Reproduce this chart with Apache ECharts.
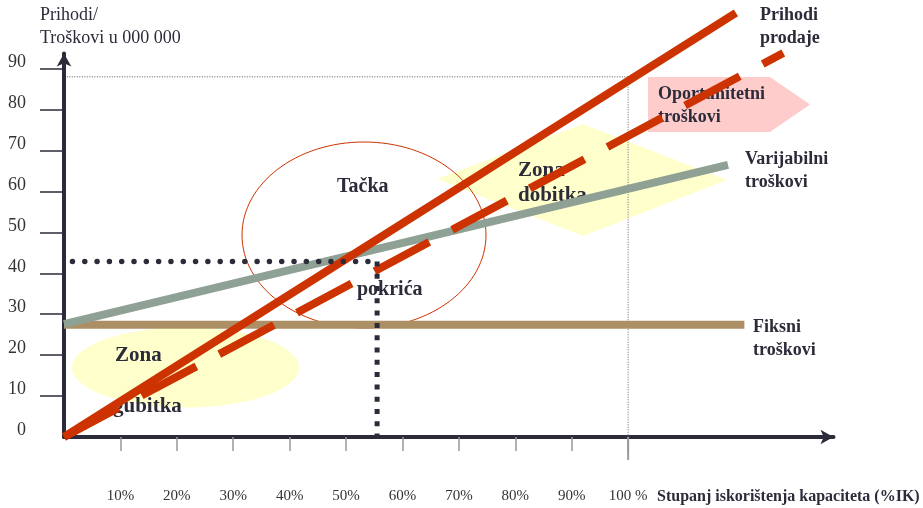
<!DOCTYPE html>
<html>
<head>
<meta charset="utf-8">
<script src="https://cdn.jsdelivr.net/npm/echarts@6/dist/echarts.min.js"></script>
<style>
  html, body { margin: 0; padding: 0; background: #ffffff; }
  #chart { width: 923px; height: 508px; }
</style>
</head>
<body>
<div id="chart"></div>
<script>
// ---- data (x: % of capacity, y: revenue / costs in 000 000) ----
const xTickValues = [10, 20, 30, 40, 50, 60, 70, 80, 90, 100];
const xTickLabels = ['10%', '20%', '30%', '40%', '50%', '60%', '70%', '80%', '90%', '100 %'];
const yLabelValues = [0, 10, 20, 30, 40, 50, 60, 70, 80, 90];
const yTickValues = [10, 20, 30, 40, 50, 60, 70, 80, 90];

const salesRevenue = [[0, 0], [119.1, 103.6]];          // Prihodi prodaje (solid)
const opportunityRevenue = [[0, 0], [127.5, 93.8]];     // dashed revenue line
const variableCosts = [[0, 27.6], [117.7, 66.5]];       // Varijabilni troškovi
const fixedCosts = [[0, 27.4], [120.6, 27.4]];          // Fiksni troškovi
const breakEvenH = [[1.5, 42.9], [55.5, 42.9]];         // dotted guide to y axis
const breakEvenV = [[55.5, 42.9], [55.5, -1.5]];        // dotted guide to x axis
const capacityH = [[0.5, 88], [100, 88]];               // thin dotted at top
const capacityV = [[100, 88], [100, 0]];                // thin dotted at 100 %
const capacityTick = [[100, 0], [100, -5.6]];           // long tick under 100 %

const SERIF = '"Liberation Serif", "Times New Roman", serif';
const INK = '#2b2b3a';
const RED = '#cc3300';

const chart = echarts.init(document.getElementById('chart'), null, { renderer: 'canvas' });

function line(data, style, z) {
  return {
    type: 'line', data: data, symbol: 'none', silent: true, clip: false,
    animation: false, z: z || 2, lineStyle: style
  };
}

function txt(text, x, y, size, bold) {
  return {
    type: 'text', x: x, y: y, z: 1, silent: true,
    style: {
      text: text, fill: INK, verticalAlign: 'middle', align: 'left',
      font: (bold ? 'bold ' : '') + size + 'px ' + SERIF
    }
  };
}

const option = {
  animation: false,
  backgroundColor: '#ffffff',
  grid: { left: 64, top: 53.5, right: 89.5, bottom: 71, containLabel: false },
  xAxis: {
    type: 'value', min: 0, max: 136.4,
    splitLine: { show: false },
    axisLine: { show: true, symbol: ['none', 'arrow'], symbolSize: [11, 13],
      lineStyle: { color: INK, width: 4 } },
    axisTick: { show: true, customValues: xTickValues, length: 14,
      lineStyle: { color: '#999999', width: 1.5 } },
    axisLabel: { show: true, customValues: xTickValues, margin: 52,
      fontFamily: SERIF, fontSize: 15, color: '#333333',
      formatter: function (v) { return xTickLabels[xTickValues.indexOf(v)] || ''; } }
  },
  yAxis: {
    type: 'value', min: 0, max: 93.7,
    splitLine: { show: false },
    axisLine: { show: true, symbol: ['none', 'arrow'], symbolSize: [11, 13],
      lineStyle: { color: INK, width: 4 } },
    axisTick: { show: true, customValues: yTickValues, length: 24,
      lineStyle: { color: INK, width: 1.5 } },
    axisLabel: { show: true, customValues: yLabelValues, margin: 38,
      fontFamily: SERIF, fontSize: 18, color: '#333333',
      verticalAlign: 'bottom', lineHeight: 13 }
  },
  series: [
    line(capacityH, { color: '#555555', width: 1, type: [1, 1.5] }, 1),
    line(capacityV, { color: '#999999', width: 1.5, type: [1, 1.5] }, 1),
    line(capacityTick, { color: '#999999', width: 2 }, 1),
    line(fixedCosts, { color: '#ad8f66', width: 8, cap: 'butt' }, 3),
    line(variableCosts, { color: '#8fa094', width: 8, cap: 'butt' }, 4),
    line(opportunityRevenue, { color: RED, width: 8, type: [62, 26], cap: 'butt' }, 5),
    line(salesRevenue, { color: RED, width: 8, cap: 'butt' }, 6),
    line(breakEvenH, { color: INK, width: 5.5, type: [0.01, 12.3], cap: 'round' }, 7),
    line(breakEvenV, { color: INK, width: 5, type: [5, 7.3], cap: 'butt' }, 7)
  ],
  graphic: {
    elements: [
      { type: 'ellipse', z: 1, silent: true, shape: { cx: 185.5, cy: 367.5, rx: 113.5, ry: 40 },
        style: { fill: '#ffffcc' } },
      { type: 'polygon', z: 1, silent: true,
        shape: { points: [[437, 179], [583, 124], [727, 180], [583, 236]] },
        style: { fill: '#ffffcc' } },
      { type: 'polygon', z: 1, silent: true,
        shape: { points: [[648, 77], [770, 77], [810, 104.5], [770, 132], [648, 132]] },
        style: { fill: '#ffcccc' } },
      { type: 'ellipse', z: 1, silent: true, shape: { cx: 364, cy: 235, rx: 122, ry: 93 },
        style: { fill: 'none', stroke: RED, lineWidth: 1 } },

      txt('Prihodi/', 40, 15, 18, false),
      txt('Troškovi u 000 000', 40, 38, 18, false),
      txt('Stupanj iskorištenja kapaciteta (%IK)', 657, 497, 16, true),

      txt('Prihodi', 760, 15, 18, true),
      txt('prodaje', 760, 38, 18, true),
      txt('Oportunitetni', 658, 94, 18, true),
      txt('troškovi', 658, 117, 18, true),
      txt('Varijabilni', 745, 159, 18, true),
      txt('troškovi', 745, 182, 18, true),
      txt('Fiksni', 753, 327, 18, true),
      txt('troškovi', 753, 350, 18, true),

      txt('Tačka', 337, 187, 20, true),
      txt('pokrića', 357, 290, 20, true),
      txt('Zona', 115, 356, 21, true),
      txt('gubitka', 113, 407, 21, true),
      txt('Zona', 518, 171, 21, true),
      txt('dobitka', 518, 196, 21, true)
    ]
  }
};

chart.setOption(option);
</script>
</body>
</html>
